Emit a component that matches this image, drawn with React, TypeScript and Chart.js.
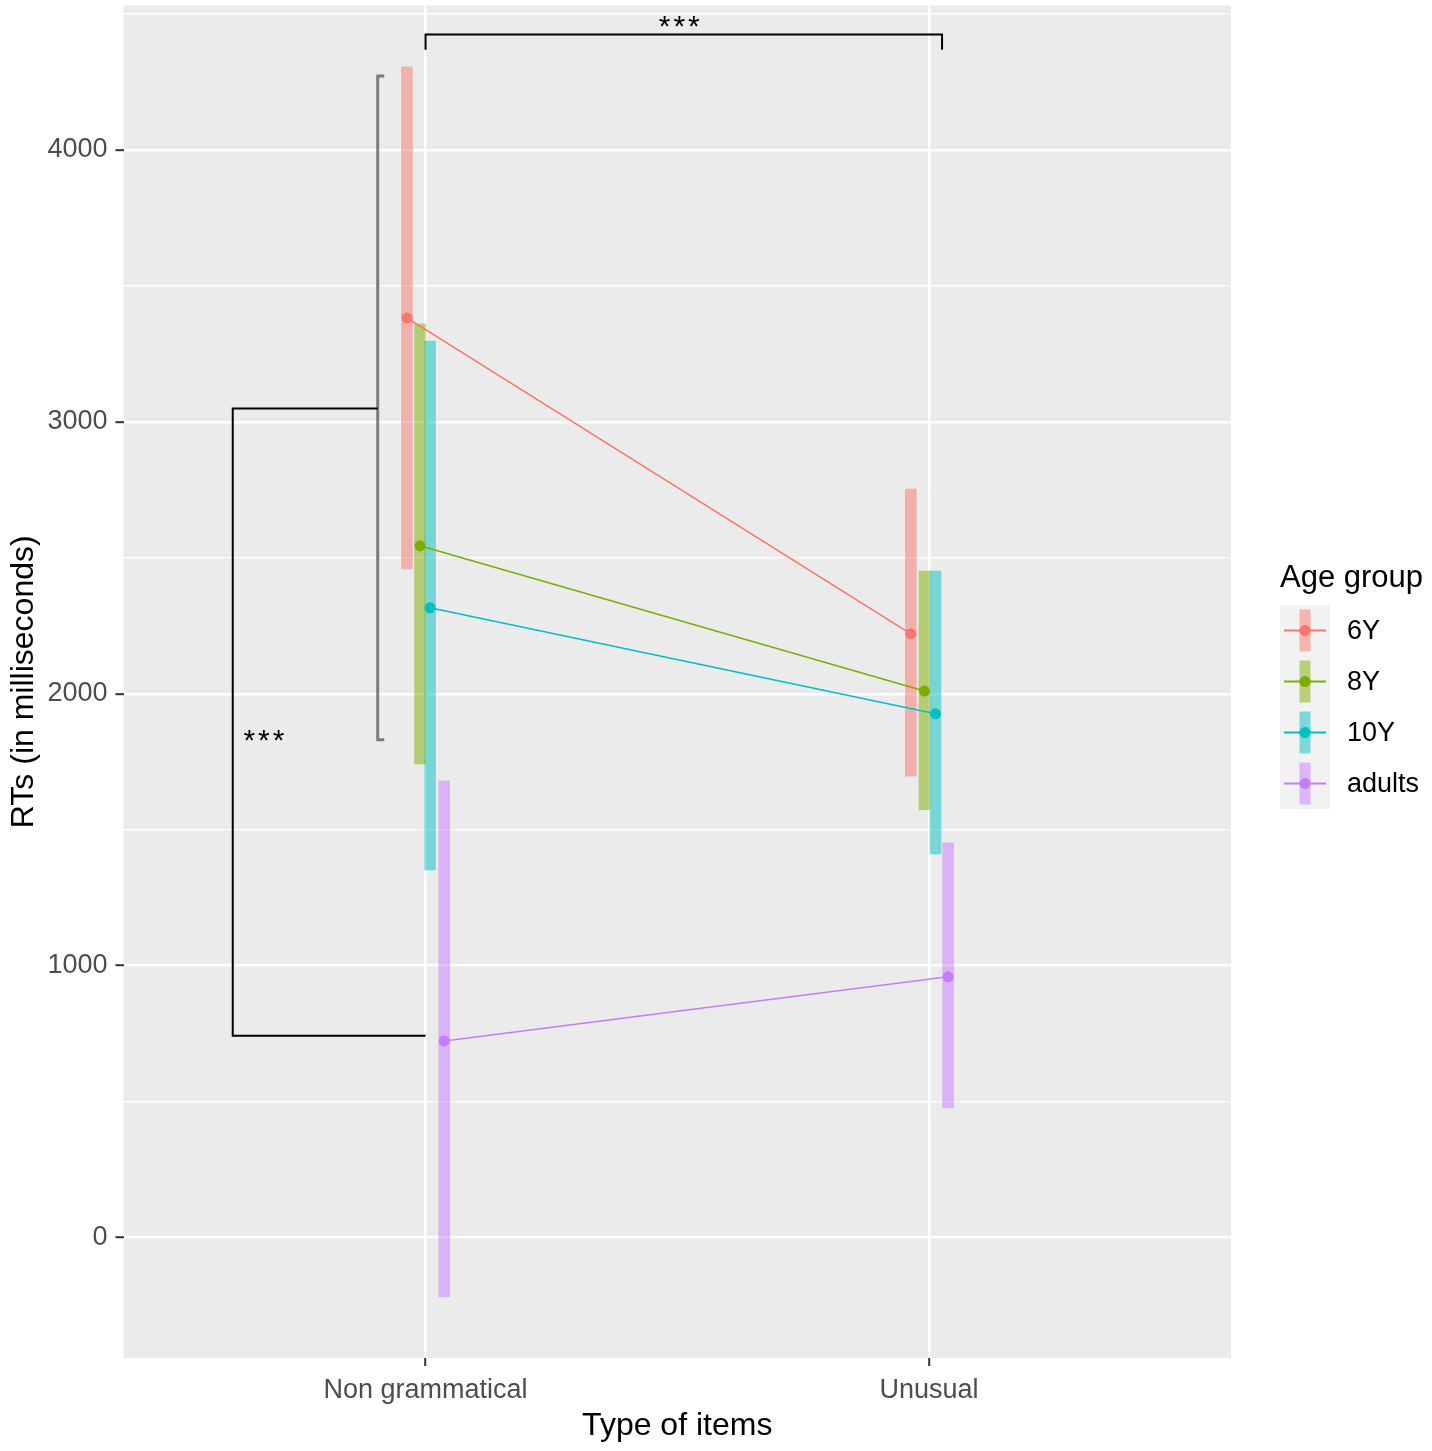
import React, { useEffect, useRef } from "react";
import { Chart, registerables } from "chart.js";

Chart.register(...registerables);

// ---------- data ----------
const categories = ["Non grammatical", "Unusual"];
const groups = ["6Y", "8Y", "10Y", "adults"];
const groupColors = ["#F8766D", "#7CAE00", "#00BFC4", "#C77CFF"];

const mean6Y = [3382, 2220];
const lo6Y = [2459, 1697];
const hi6Y = [4305, 2753];

const mean8Y = [2544, 2010];
const lo8Y = [1742, 1574];
const hi8Y = [3360, 2451];

const mean10Y = [2316, 1926];
const lo10Y = [1352, 1411];
const hi10Y = [3297, 2451];

const meanAdults = [723, 959];
const loAdults = [-218, 477];
const hiAdults = [1680, 1452];

// horizontal jitter of each group around its category (in category units)
const jitter6Y = [-0.037, -0.036];
const jitter8Y = [-0.011, -0.009];
const jitter10Y = [0.009, 0.013];
const jitterAdults = [0.037, 0.038];

const yTicks = [0, 1000, 2000, 3000, 4000];

// significance annotations (data units)
const bracketTopX = [1.0, 1.0, 2.026, 2.026];
const bracketTopY = [4368, 4424, 4424, 4368];
const bracketGrayX = [0.918, 0.905, 0.905, 0.918];
const bracketGrayY = [4272, 4272, 1831, 1831];
const bracketLeftX = [0.905, 0.617, 0.617, 1.0];
const bracketLeftY = [3049, 3049, 742, 742];
const starLabels = ["***", "***"];
const starX = [1.507, 0.682];
const starY = [4480, 1853];

const means = [mean6Y, mean8Y, mean10Y, meanAdults];
const los = [lo6Y, lo8Y, lo10Y, loAdults];
const his = [hi6Y, hi8Y, hi10Y, hiAdults];
const jitters = [jitter6Y, jitter8Y, jitter10Y, jitterAdults];

const FONT = "'Liberation Sans', Arial, sans-serif";

function alpha(hex: string, a: number) {
  const r = parseInt(hex.slice(1, 3), 16);
  const g = parseInt(hex.slice(3, 5), 16);
  const b = parseInt(hex.slice(5, 7), 16);
  return `rgba(${r},${g},${b},${a})`;
}

const panelBg = {
  id: "panelBg",
  beforeDraw(chart: any) {
    const { ctx, chartArea: a } = chart;
    ctx.save();
    ctx.fillStyle = "#EBEBEB";
    ctx.fillRect(a.left, a.top, a.right - a.left, a.bottom - a.top);
    ctx.restore();
  },
};

const annotations = {
  id: "annotations",
  afterDatasetsDraw(chart: any) {
    const { ctx } = chart;
    const xs = chart.scales.x;
    const ys = chart.scales.y;
    const poly = (X: number[], Y: number[], color: string, w: number) => {
      ctx.save();
      ctx.strokeStyle = color;
      ctx.lineWidth = w;
      ctx.lineCap = "butt";
      ctx.lineJoin = "miter";
      ctx.beginPath();
      X.forEach((x, i) => {
        const px = xs.getPixelForValue(x);
        const py = ys.getPixelForValue(Y[i]);
        if (i === 0) ctx.moveTo(px, py);
        else ctx.lineTo(px, py);
      });
      ctx.stroke();
      ctx.restore();
    };
    poly(bracketTopX, bracketTopY, "#000000", 2);
    poly(bracketGrayX, bracketGrayY, "#7A7A7A", 3);
    poly(bracketLeftX, bracketLeftY, "#000000", 2);
    ctx.save();
    ctx.fillStyle = "#000000";
    ctx.font = `30px ${FONT}`;
    ctx.textAlign = "center";
    ctx.textBaseline = "middle";
    (ctx as any).letterSpacing = "3px";
    starLabels.forEach((s, i) => {
      ctx.fillText(s, xs.getPixelForValue(starX[i]), ys.getPixelForValue(starY[i]) + 8);
    });
    ctx.restore();
  },
};

const customLegend = {
  id: "customLegend",
  afterDraw(chart: any) {
    const { ctx, chartArea: a } = chart;
    const left = a.right + 49;
    const top = 605;
    const keyW = 50;
    const keyH = 51;
    ctx.save();
    ctx.fillStyle = "#000000";
    ctx.font = `31px ${FONT}`;
    ctx.textAlign = "left";
    ctx.textBaseline = "middle";
    ctx.fillText("Age group", left, top - 27);
    ctx.fillStyle = "#F2F2F2";
    ctx.fillRect(left, top, keyW, keyH * groups.length);
    groups.forEach((g, i) => {
      const cy = top + keyH * i + keyH / 2;
      const cx = left + keyW / 2;
      ctx.fillStyle = alpha(groupColors[i], 0.5);
      ctx.fillRect(cx - 5.5, cy - 21, 11, 42);
      ctx.strokeStyle = groupColors[i];
      ctx.lineWidth = 2;
      ctx.beginPath();
      ctx.moveTo(left + 4, cy);
      ctx.lineTo(left + keyW - 4, cy);
      ctx.stroke();
      ctx.fillStyle = groupColors[i];
      ctx.beginPath();
      ctx.arc(cx, cy, 5.5, 0, Math.PI * 2);
      ctx.fill();
      ctx.fillStyle = "#000000";
      ctx.font = `27px ${FONT}`;
      ctx.fillText(g, left + 67, cy + 1);
    });
    ctx.restore();
  },
};

export default function App() {
  const canvasRef = useRef<HTMLCanvasElement | null>(null);

  useEffect(() => {
    if (!canvasRef.current) return;
    Chart.defaults.font.family = FONT;

    const barSets = groups.map((g, gi) => ({
      type: "bar" as const,
      label: g + " range",
      data: categories.map((_, ci) => ({
        x: ci + 1 + jitters[gi][ci],
        y: [los[gi][ci], his[gi][ci]],
      })),
      backgroundColor: alpha(groupColors[gi], 0.5),
      borderWidth: 0,
      barThickness: 11,
      grouped: false,
      order: 10,
    }));

    const lineSets = groups.map((g, gi) => ({
      type: "scatter" as const,
      label: g,
      data: categories.map((_, ci) => ({ x: ci + 1 + jitters[gi][ci], y: means[gi][ci] })),
      showLine: true,
      borderColor: groupColors[gi],
      backgroundColor: groupColors[gi],
      borderWidth: 1.6,
      pointRadius: 5.5,
      pointBorderWidth: 0,
      pointHoverRadius: 5.5,
      order: 5 - gi,
    }));

    const chart = new Chart(canvasRef.current, {
      type: "scatter",
      data: { datasets: [...barSets, ...lineSets] as any },
      options: {
        animation: false,
        responsive: true,
        maintainAspectRatio: false,
        events: [],
        layout: { padding: { top: 5, right: 201, left: 0, bottom: 0 } },
        plugins: {
          legend: { display: false },
          tooltip: { enabled: false },
        },
        scales: {
          x: {
            type: "linear",
            min: 0.4,
            max: 2.6,
            offset: false,
            afterBuildTicks: (scale: any) => {
              scale.ticks = categories.map((_, i) => ({ value: i + 1 }));
            },
            afterFit: (scale: any) => {
              scale.height = 93;
              scale.paddingLeft = 0;
              scale.paddingRight = 0;
            },
            ticks: {
              autoSkip: false,
              maxRotation: 0,
              padding: 8,
              color: "#4D4D4D",
              font: { size: 27 },
              callback: (v: any) => categories[Math.round(Number(v)) - 1] ?? "",
            },
            grid: {
              offset: false,
              color: "#FFFFFF",
              lineWidth: 2.4,
              tickColor: "#333333",
              tickLength: 8,
              tickWidth: 2,
            },
            border: { display: false },
            title: {
              display: true,
              text: "Type of items",
              color: "#000000",
              font: { size: 32 },
              padding: { top: 0, bottom: 6 },
            },
          },
          y: {
            type: "linear",
            min: -443,
            max: 4531,
            afterBuildTicks: (scale: any) => {
              const t: any[] = [];
              for (let v = 0; v <= 4500; v += 500) t.push({ value: v });
              scale.ticks = t;
            },
            afterFit: (scale: any) => {
              scale.width = 123.5;
              scale.paddingTop = 0;
              scale.paddingBottom = 0;
            },
            ticks: {
              autoSkip: false,
              padding: 8,
              color: "#4D4D4D",
              font: { size: 27 },
              callback: (v: any) => (yTicks.includes(Number(v)) ? String(v) : ""),
            },
            grid: {
              color: "#FFFFFF",
              lineWidth: (c: any) => (yTicks.includes(c.tick?.value) ? 2.4 : 1.3),
              tickColor: (c: any) => (yTicks.includes(c.tick?.value) ? "#333333" : "rgba(0,0,0,0)"),
              tickLength: 8,
              tickWidth: 2,
            },
            border: { display: false },
            title: {
              display: true,
              text: "RTs (in milliseconds)",
              color: "#000000",
              font: { size: 32 },
              padding: { top: 5, bottom: 0 },
            },
          },
        },
      },
      plugins: [panelBg, annotations, customLegend],
    });

    return () => chart.destroy();
  }, []);

  return (
    <div style={{ position: "absolute", left: 0, top: 0, width: 1432, height: 1451, background: "#FFFFFF" }}>
      <canvas ref={canvasRef} />
    </div>
  );
}
